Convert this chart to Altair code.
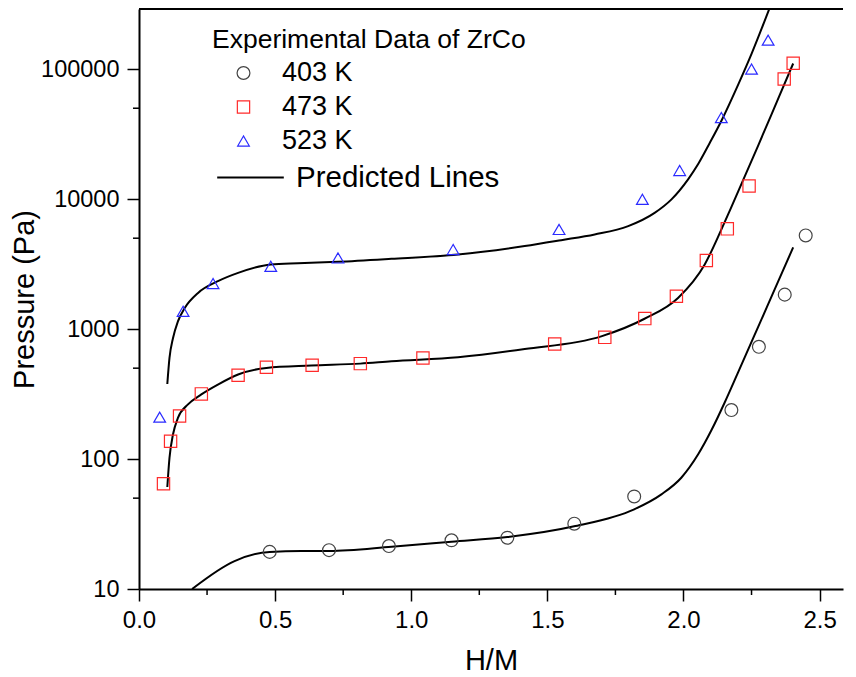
import altair as alt
import pandas as pd

# ---------------- data ----------------
series_names = ["403 K", "473 K", "523 K"]

# experimental points
x_403 = [0.480, 0.698, 0.918, 1.148, 1.353, 1.599, 1.819, 2.176, 2.277, 2.372, 2.449]
p_403 = [19.3, 19.9, 21.4, 23.7, 24.8, 31.8, 51.5, 238, 730, 1840, 5250]

x_473 = [0.090, 0.116, 0.149, 0.229, 0.364, 0.468, 0.636, 0.813, 1.043, 1.527,
         1.711, 1.858, 1.974, 2.084, 2.161, 2.241, 2.370, 2.403]
p_473 = [64.6, 137, 214, 317, 441, 508, 526, 542, 599, 767,
         863, 1203, 1786, 3365, 5900, 12600, 83800, 111000]

x_523 = [0.076, 0.162, 0.272, 0.484, 0.731, 1.154, 1.543, 1.849, 1.986, 2.139, 2.250, 2.311]
p_523 = [210, 1368, 2240, 3040, 3525, 4093, 5840, 9950, 16600, 42400, 100000, 167000]

# predicted lines
lx_403 = [0.195, 0.351, 0.480, 0.596, 0.698, 0.928, 1.148, 1.353, 1.603, 1.819,
          1.919, 1.992, 2.054, 2.103, 2.151, 2.201, 2.274, 2.335, 2.403]
lp_403 = [10.0, 16.4, 19.3, 19.6, 19.6, 21.1, 23.1, 25.1, 30.5, 41.0,
          53.5, 71.8, 108.7, 167, 271, 466, 1035, 2020, 4250]

lx_473 = [0.104, 0.112, 0.125, 0.143, 0.180, 0.229, 0.290, 0.364, 0.468, 0.633,
          0.813, 0.927, 1.172, 1.417, 1.698, 1.857, 1.980, 2.078, 2.139, 2.173,
          2.274, 2.348, 2.403]
lp_473 = [60.9, 102, 155, 207, 263, 314, 374, 447, 502, 524,
          542, 565, 607, 702, 879, 1200, 1734, 3140, 5820, 8410,
          25700, 59300, 110400]

lx_523 = [0.104, 0.112, 0.125, 0.143, 0.168, 0.217, 0.290, 0.364, 0.484, 0.584,
          0.731, 0.927, 1.172, 1.417, 1.551, 1.674, 1.797, 1.894, 1.956, 2.017,
          2.054, 2.096, 2.139, 2.201, 2.250, 2.317]
lp_523 = [378, 599, 853, 1147, 1452, 1897, 2334, 2704, 3140, 3213,
          3290, 3467, 3750, 4350, 4830, 5345, 6195, 7830, 9950, 14190,
          18600, 26900, 39900, 76000, 131000, 297000]

line_label = "Predicted Lines"
legend_title = "Experimental Data of ZrCo"

x_major = [0.0, 0.5, 1.0, 1.5, 2.0, 2.5]
x_minor = [0.25, 0.75, 1.25, 1.75, 2.25]
y_major = [10, 100, 1000, 10000, 100000]
y_minor = [50, 500, 5000, 50000]

# ---------------- tables ----------------
pts = pd.concat([
    pd.DataFrame({"x": x_403, "p": p_403, "series": series_names[0]}),
    pd.DataFrame({"x": x_473, "p": p_473, "series": series_names[1]}),
    pd.DataFrame({"x": x_523, "p": p_523, "series": series_names[2]}),
], ignore_index=True)

lines = pd.concat([
    pd.DataFrame({"x": lx_403, "p": lp_403, "series": series_names[0]}),
    pd.DataFrame({"x": lx_473, "p": lp_473, "series": series_names[1]}),
    pd.DataFrame({"x": lx_523, "p": lp_523, "series": series_names[2]}),
], ignore_index=True)
lines["kind"] = line_label

xminor_df = pd.DataFrame({"x": x_minor})
yminor_df = pd.DataFrame({"p": y_minor})

# ---------------- styling ----------------
FONT = "Liberation Sans"
W, H = 704, 580
x_scale = alt.Scale(domain=[0, 2.586], nice=False, zero=False)
y_scale = alt.Scale(type="log", domain=[10, 290000], nice=False)

x_axis = alt.Axis(values=x_major, format=".1f", title="H/M",
                  titleFont=FONT, titleFontSize=29, titleFontWeight="normal",
                  titleColor="black", titlePadding=14,
                  labelFont=FONT, labelFontSize=24, labelColor="black",
                  labelPadding=7, labelFlush=False, labelOverlap=False,
                  tickSize=12, tickWidth=1.5, tickColor="black",
                  domainColor="black", domainWidth=2, grid=False)
y_axis = alt.Axis(values=y_major, format="d", title="Pressure (Pa)",
                  titleFont=FONT, titleFontSize=29, titleFontWeight="normal",
                  titleColor="black", titlePadding=1,
                  labelFont=FONT, labelFontSize=23.5, labelColor="black",
                  labelPadding=8, labelFlush=False, labelOverlap=False,
                  tickSize=12, tickWidth=1.5, tickColor="black",
                  domainColor="black", domainWidth=2, grid=False)


def X(f="x"):
    return alt.X(f"{f}:Q", scale=x_scale, axis=x_axis)


def Y(f="p"):
    return alt.Y(f"{f}:Q", scale=y_scale, axis=y_axis)


pt_legend = alt.Legend(title=legend_title, orient="none", legendX=73, legendY=18,
                       titleFont=FONT, titleFontSize=26.5, titleFontWeight="normal",
                       titleColor="black", titlePadding=6, titleAnchor="start",
                       titleLimit=0, labelLimit=0,
                       labelFont=FONT, labelFontSize=27, labelColor="black",
                       symbolOffset=18, labelOffset=25, rowPadding=6, padding=0,
                       symbolStrokeWidth=1.2)

ln_legend = alt.Legend(title=None, orient="none", legendX=77, legendY=134,
                       labelFont=FONT, labelFontSize=29.5, labelColor="black",
                       labelLimit=0,
                       symbolType="stroke", symbolSize=4436, symbolStrokeWidth=2,
                       symbolOffset=0, labelOffset=11, padding=0)

color_scale = alt.Scale(domain=series_names, range=["#444444", "#ff2a2a", "#2a2aff"])
shape_scale = alt.Scale(domain=series_names, range=["circle", "square", "triangle-up"])
size_scale = alt.Scale(domain=series_names, range=[165, 137, 256])

points = alt.Chart(pts).mark_point(filled=False, strokeWidth=1.2, opacity=1).encode(
    x=X(), y=Y(),
    color=alt.Color("series:N", scale=color_scale, legend=pt_legend, title=legend_title),
    shape=alt.Shape("series:N", scale=shape_scale, legend=pt_legend, title=legend_title),
    size=alt.Size("series:N", scale=size_scale, legend=pt_legend, title=legend_title),
)

curves = alt.Chart(lines).mark_line(interpolate="monotone", strokeWidth=2, clip=True).encode(
    x=X(), y=Y(),
    detail="series:N",
    stroke=alt.Stroke("kind:N", scale=alt.Scale(domain=[line_label], range=["black"]),
                      legend=ln_legend),
    order="x:Q",
)

xminor = alt.Chart(xminor_df).mark_rule(color="black", strokeWidth=1.5).encode(
    x=X(), y=alt.value(H), y2=alt.value(H + 6))
yminor = alt.Chart(yminor_df).mark_rule(color="black", strokeWidth=1.5).encode(
    y=Y(), x=alt.value(-6), x2=alt.value(0))

top_line = alt.Chart(pd.DataFrame({"a": [0]})).mark_rule(color="black", strokeWidth=2).encode(
    x=alt.value(0), x2=alt.value(W), y=alt.value(0))

chart = alt.layer(curves, points, xminor, yminor, top_line).properties(
    width=W, height=H, background="white",
    padding={"left": 2, "top": 0, "right": 0, "bottom": 0}
).configure_view(stroke=None).configure_legend(
    labelFont=FONT, labelColor="black", labelLimit=0, titleLimit=0
)

chart.save("out.html", embed_options={"renderer": "svg", "actions": False})
